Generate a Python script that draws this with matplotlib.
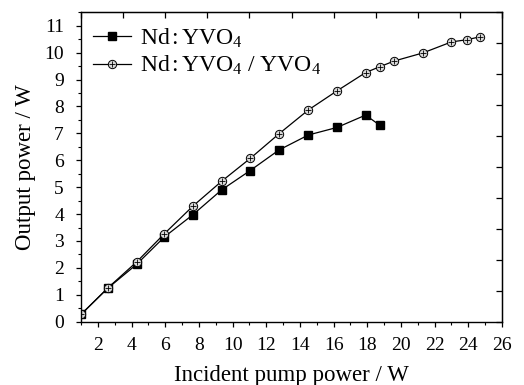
import matplotlib
matplotlib.use("Agg")
import matplotlib.pyplot as plt
import numpy as np
from matplotlib.ticker import MultipleLocator, FixedLocator, NullFormatter
from matplotlib.legend_handler import HandlerTuple

plt.rcParams['font.family'] = ['Liberation Serif', 'DejaVu Serif']
plt.rcParams['mathtext.fontset'] = 'custom'
plt.rcParams['mathtext.rm'] = 'Liberation Serif'
plt.rcParams['mathtext.it'] = 'Liberation Serif:italic'

pump_nd = [1.0, 2.6, 4.3, 5.95, 7.65, 9.35, 11.05, 12.75, 14.5, 16.2, 17.9, 18.75]
out_nd = [0.27, 1.25, 2.13, 3.15, 3.98, 4.90, 5.62, 6.38, 6.94, 7.22, 7.68, 7.30]

pump_comp = [1.0, 2.6, 4.3, 5.95, 7.65, 9.35, 11.05, 12.75, 14.5, 16.2, 17.9, 18.75,
             19.6, 21.3, 23.0, 23.9, 24.7]
out_comp = [0.27, 1.26, 2.22, 3.27, 4.30, 5.22, 6.07, 6.98, 7.87, 8.58, 9.26, 9.48,
            9.69, 9.99, 10.40, 10.48, 10.59]

labels = ["Nd$\\,$:$\\,$YVO$_4$", "Nd$\\,$:$\\,$YVO$_4$ / YVO$_4$"]

fig = plt.figure(figsize=(5.24, 3.85), dpi=100)
ax = fig.add_axes([0.1546, 0.1644, 0.8034, 0.8036])

l1, = ax.plot(pump_nd, out_nd, color='black', lw=0.9, marker='s', ms=5.5,
              mfc='black', mec='black')
l2, = ax.plot(pump_comp, out_comp, color='black', lw=0.9, marker='o', ms=6,
              mfc='#d8d8d8', mec='black', mew=0.7)
l2b, = ax.plot(pump_comp, out_comp, color='none', marker='+', ms=5,
               mec='black', mew=0.6, linestyle='none')

xmin, xmax = 1, 26
ymin, ymax = 0, 11.5
ax.set_xlim(xmin, xmax)
ax.set_ylim(ymin, ymax)

ax.xaxis.set_major_locator(FixedLocator(np.arange(2, 27, 2)))
ax.xaxis.set_minor_locator(FixedLocator(np.arange(1, 27, 2)))
ax.yaxis.set_major_locator(MultipleLocator(1))
ax.yaxis.set_minor_locator(MultipleLocator(0.5))
ax.tick_params(axis='both', which='major', direction='out', length=3.8, width=0.9,
               labelsize=14, top=False, right=False)
ax.tick_params(axis='x', which='major', pad=7)
ax.tick_params(axis='y', which='major', pad=8.5)
ax.tick_params(axis='both', which='minor', direction='out', length=2.3, width=0.8,
               top=False, right=False)

# mirrored axes with 10 equal divisions (as in the original)
axt = ax.secondary_xaxis('top')
axt.xaxis.set_major_locator(FixedLocator(np.linspace(xmin, xmax, 11)))
axt.xaxis.set_major_formatter(NullFormatter())
axt.tick_params(direction='in', length=4, width=0.9)
axr = ax.secondary_yaxis('right')
axr.yaxis.set_major_locator(FixedLocator(np.linspace(ymin, ymax, 11)))
axr.yaxis.set_major_formatter(NullFormatter())
axr.tick_params(direction='in', length=4, width=0.9)

for s in ax.spines.values():
    s.set_linewidth(1.0)

ax.set_xlabel("Incident pump power / W", fontsize=16.5, labelpad=8)
ax.set_ylabel("Output power / W", fontsize=16.5, labelpad=6)

ax.legend([l1, (l2, l2b)], labels, handler_map={tuple: HandlerTuple(ndivide=1, pad=0)},
          loc='upper left', bbox_to_anchor=(0.0285, 0.955), frameon=False, fontsize=17,
          handlelength=1.6, handletextpad=0.4, labelspacing=0.18, borderaxespad=0,
          borderpad=0)

fig.savefig("out.png", dpi=100)
